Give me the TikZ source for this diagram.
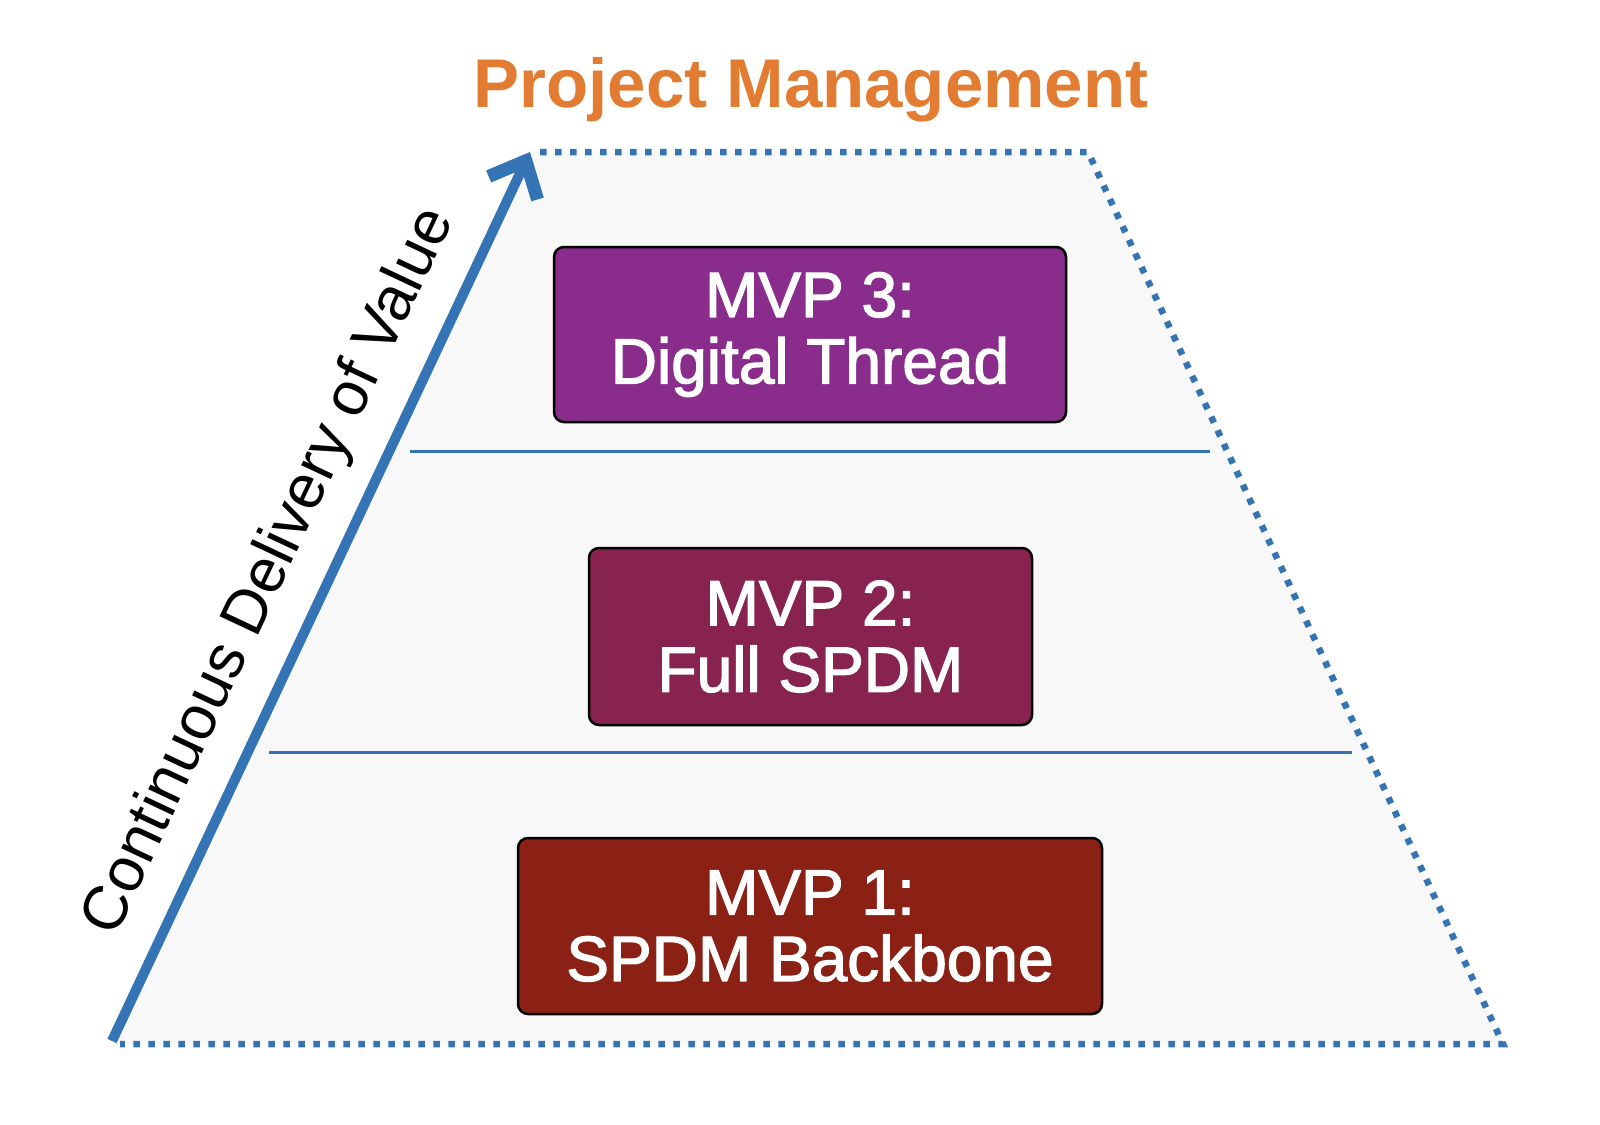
\documentclass[tikz,border=0pt]{standalone}
\usepackage{fontspec}
\setmainfont{Liberation Sans}
\newfontfamily\boxfont[FakeBold=2]{Liberation Sans}
\usetikzlibrary{arrows.meta}
\definecolor{pmorange}{HTML}{E27C32}
\definecolor{bluel}{HTML}{3574B4}
\definecolor{fillg}{HTML}{F8F8F9}
\definecolor{mvpthree}{HTML}{8A2C8C}
\definecolor{mvptwo}{HTML}{88234F}
\definecolor{mvpone}{HTML}{8A2114}
\begin{document}
\begin{tikzpicture}[x=1pt,y=-1pt,
  mvpbox/.style={draw=black, line width=2.5pt, rounded corners=10pt, text=white,
    align=center, font=\boxfont\fontsize{64}{66.5}\selectfont, inner sep=0pt},
  dotline/.style={bluel, line width=6.5pt, dash pattern=on 6.5pt off 8.5pt},
  sepline/.style={bluel, line width=3pt},
  valuearrow/.style={bluel, line width=10pt, -{Straight Barb[length=30pt,width=54pt,line width=13pt]}}
  ]
\useasboundingbox (0,0) rectangle (1600,1124);
\coordinate (BL) at (112,1041);
\coordinate (TL) at (530,152);
\coordinate (TS) at (540,152);
\coordinate (TR) at (1088,152);
\coordinate (BR) at (1503,1044);
\coordinate (BLd) at (120,1044);
\fill[fillg] (114,1044) -- (532,152) -- (TR) -- (BR) -- cycle;
\draw[dotline] (TS) -- (TR) -- (BR) -- (BLd);
\coordinate (s1a) at (410,451);
\coordinate (s1b) at (1210,451);
\coordinate (s2a) at (269,752);
\coordinate (s2b) at (1352,752);
\draw[sepline] (s1a) -- (s1b);
\draw[sepline] (s2a) -- (s2b);
\draw[valuearrow] (BL) -- (TL);
\node[font=\fontsize{62}{62}\selectfont, rotate=64.8] (cdv) at (270,572) {Continuous Delivery of Value};
\node[anchor=base, text=pmorange, font=\bfseries\fontsize{69}{69}\selectfont] (pm) at (811,107) {Project Management};
\node[mvpbox, fill=mvpthree, minimum width=512pt, minimum height=175pt] (m3) at (810,334.5) {MVP 3:\\Digital Thread};
\node[mvpbox, fill=mvptwo, minimum width=443pt, minimum height=177pt] (m2) at (810.5,636.5) {MVP 2:\\Full SPDM};
\node[mvpbox, fill=mvpone, minimum width=584pt, minimum height=176pt] (m1) at (810,926) {MVP 1:\\SPDM Backbone};
\end{tikzpicture}
\end{document}
